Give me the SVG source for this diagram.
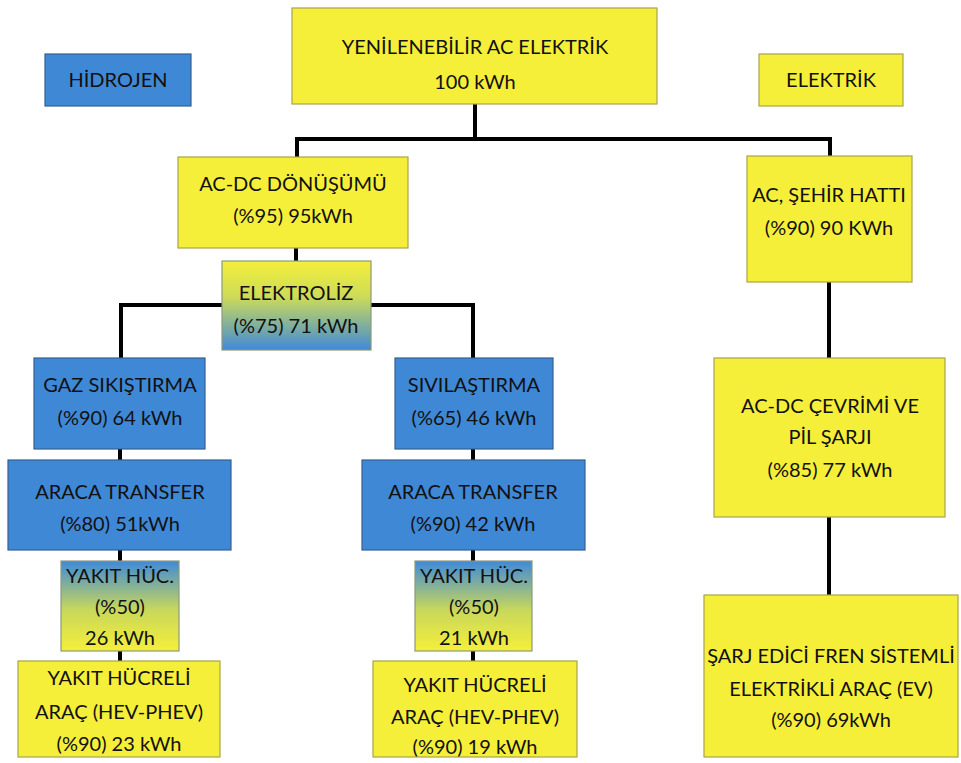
<svg xmlns="http://www.w3.org/2000/svg" width="961" height="763" viewBox="0 0 961 763">
<defs>
<linearGradient id="yb" x1="0" y1="0" x2="0" y2="1"><stop offset="0" stop-color="#f5ef3a"/><stop offset="0.4" stop-color="#cddb58"/><stop offset="1" stop-color="#3f8ad8"/></linearGradient>
<linearGradient id="by" x1="0" y1="0" x2="0" y2="1"><stop offset="0" stop-color="#3f8ad8"/><stop offset="0.55" stop-color="#c9d85a"/><stop offset="1" stop-color="#f5ef3a"/></linearGradient>
</defs>
<style>
.y{fill:#f5ef3a;stroke:#a9a34a;stroke-width:1.2}
.b{fill:#3f88d6;stroke:#34608f;stroke-width:1.2}
.g1{fill:url(#yb);stroke:#8a9a7a;stroke-width:1.2}
.g2{fill:url(#by);stroke:#8a9a7a;stroke-width:1.2}
text{font-family:Lato,"Open Sans","Liberation Sans",sans-serif;font-size:20px;fill:#111;text-anchor:middle}
.c path{fill:none;stroke:#000;stroke-width:4}
</style>
<rect width="961" height="763" fill="#fff"/>
<g class="c" id="connectors">
<path d="M475 104V139M297 157V139H830V157"/>
<path d="M296 248V261"/>
<path d="M121 358V305H222M371 305H473V358"/>
<path d="M120 449V460M120 550V561M120 651V661"/>
<path d="M473 449V460M473 550V561M473 651V661"/>
<path d="M829 282V358M829 517V595"/>
</g>
<g id="legend-hidrojen"><rect class="b" x="45" y="54" width="146" height="52"/><text x="118" y="87">HİDROJEN</text></g>
<g id="legend-elektrik"><rect class="y" x="759" y="54" width="144" height="52"/><text x="831" y="87">ELEKTRİK</text></g>
<g id="n-top"><rect class="y" x="292" y="8" width="365" height="96"/><text x="475" y="54">YENİLENEBİLİR AC ELEKTRİK</text><text x="475" y="89">100 kWh</text></g>
<g id="n-acdc"><rect class="y" x="178" y="157" width="230" height="91"/><text x="293" y="191">AC-DC DÖNÜŞÜMÜ</text><text x="293" y="223">(%95) 95kWh</text></g>
<g id="n-elektroliz"><rect class="g1" x="222" y="261" width="149" height="89"/><text x="296" y="300">ELEKTROLİZ</text><text x="296" y="333">(%75) 71 kWh</text></g>
<g id="n-sehir"><rect class="y" x="747" y="156" width="165" height="126"/><text x="829" y="202">AC, ŞEHİR HATTI</text><text x="829" y="235">(%90) 90 KWh</text></g>
<g id="n-gaz"><rect class="b" x="34" y="358" width="171" height="91"/><text x="120" y="392">GAZ SIKIŞTIRMA</text><text x="120" y="425">(%90) 64 kWh</text></g>
<g id="n-sivi"><rect class="b" x="395" y="358" width="158" height="91"/><text x="474" y="392">SIVILAŞTIRMA</text><text x="474" y="425">(%65) 46 kWh</text></g>
<g id="n-araca1"><rect class="b" x="8" y="460" width="223" height="90"/><text x="120" y="499">ARACA TRANSFER</text><text x="120" y="531">(%80) 51kWh</text></g>
<g id="n-araca2"><rect class="b" x="362" y="460" width="223" height="90"/><text x="473" y="499">ARACA TRANSFER</text><text x="473" y="531">(%90) 42 kWh</text></g>
<g id="n-yakit1"><rect class="g2" x="61" y="561" width="118" height="90"/><text x="120" y="583">YAKIT HÜC.</text><text x="120" y="614">(%50)</text><text x="120" y="645">26 kWh</text></g>
<g id="n-yakit2"><rect class="g2" x="415" y="561" width="117" height="90"/><text x="474" y="583">YAKIT HÜC.</text><text x="474" y="614">(%50)</text><text x="474" y="645">21 kWh</text></g>
<g id="n-arac1"><rect class="y" x="18" y="661" width="202" height="96"/><text x="119" y="685">YAKIT HÜCRELİ</text><text x="119" y="719">ARAÇ (HEV-PHEV)</text><text x="119" y="751">(%90) 23 kWh</text></g>
<g id="n-arac2"><rect class="y" x="373" y="661" width="204" height="96"/><text x="475" y="692">YAKIT HÜCRELİ</text><text x="475" y="724">ARAÇ (HEV-PHEV)</text><text x="475" y="754">(%90) 19 kWh</text></g>
<g id="n-pil"><rect class="y" x="714" y="358" width="231" height="159"/><text x="830" y="413">AC-DC ÇEVRİMİ VE</text><text x="830" y="444">PİL ŞARJI</text><text x="830" y="477">(%85) 77 kWh</text></g>
<g id="n-ev"><rect class="y" x="704" y="595" width="254" height="162"/><text x="831" y="663">ŞARJ EDİCİ FREN SİSTEMLİ</text><text x="831" y="696">ELEKTRİKLİ ARAÇ (EV)</text><text x="831" y="727">(%90) 69kWh</text></g>
</svg>
